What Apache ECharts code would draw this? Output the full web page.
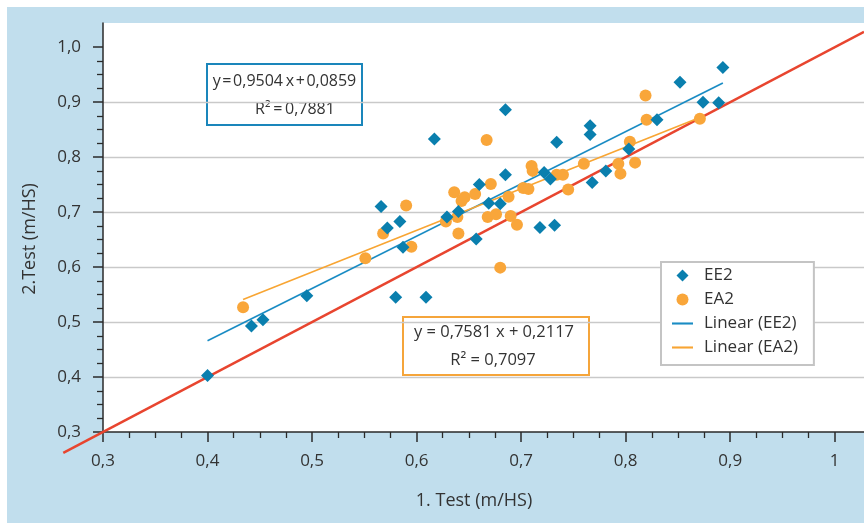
<!DOCTYPE html>
<html>
<head>
<meta charset="utf-8">
<script src="https://cdn.jsdelivr.net/npm/echarts@6/dist/echarts.min.js"></script>
<style>
  html, body { margin: 0; padding: 0; background: #ffffff; }
  #chart { position: absolute; left: 7px; top: 7px; width: 857px; height: 516px; }
</style>
</head>
<body>
<div id="chart"></div>
<script>
// ---- data ----
const ee2Points = [
  [0.400, 0.403], [0.442, 0.493], [0.453, 0.504], [0.495, 0.548],
  [0.566, 0.710], [0.572, 0.671], [0.584, 0.683], [0.587, 0.636],
  [0.580, 0.545], [0.609, 0.545], [0.617, 0.833], [0.629, 0.691],
  [0.640, 0.701], [0.657, 0.651], [0.660, 0.750], [0.669, 0.716],
  [0.680, 0.715], [0.685, 0.886], [0.685, 0.768], [0.718, 0.672],
  [0.722, 0.772], [0.728, 0.760], [0.732, 0.676], [0.734, 0.827],
  [0.766, 0.857], [0.766, 0.841], [0.768, 0.754], [0.781, 0.775],
  [0.803, 0.815], [0.830, 0.868], [0.852, 0.936], [0.874, 0.900],
  [0.889, 0.899], [0.893, 0.963]
];
const ea2Points = [
  [0.434, 0.527], [0.551, 0.616], [0.568, 0.661], [0.590, 0.712],
  [0.595, 0.637], [0.628, 0.683], [0.636, 0.736], [0.639, 0.691],
  [0.640, 0.661], [0.643, 0.720], [0.646, 0.727], [0.656, 0.733],
  [0.667, 0.831], [0.668, 0.691], [0.671, 0.751], [0.676, 0.696],
  [0.680, 0.599], [0.688, 0.728], [0.690, 0.693], [0.696, 0.677],
  [0.702, 0.744], [0.707, 0.742], [0.710, 0.784], [0.711, 0.775],
  [0.734, 0.768], [0.740, 0.768], [0.745, 0.741], [0.760, 0.788],
  [0.793, 0.788], [0.795, 0.770], [0.804, 0.828], [0.809, 0.790],
  [0.819, 0.912], [0.820, 0.868], [0.871, 0.870]
];
const trendEE2 = [[0.400, 0.466], [0.893, 0.935]];
const trendEA2 = [[0.434, 0.541], [0.871, 0.872]];
const identityLine = [[0.262, 0.262], [1.028, 1.028]];

const seriesNames = ['EE2', 'EA2', 'Linear (EE2)', 'Linear (EA2)'];
const eqEE2 = ['y\u200A=\u200A0,9504\u2009x\u200A+\u200A0,0859', 'R\u00B2\u2009=\u20090,7881'];
const eqEA2 = ['y = 0,7581 x + 0,2117', 'R\u00B2 = 0,7097'];
const xTitle = '1. Test (m/HS)';
const yTitle = '2.Test (m/HS)';

const xMajorTicks = [0.3, 0.4, 0.5, 0.6, 0.7, 0.8, 0.9, 1.0];
const yMajorTicks = [0.3, 0.4, 0.5, 0.6, 0.7, 0.8, 0.9, 1.0];
const minorTicks = [0.325, 0.35, 0.375, 0.425, 0.45, 0.475, 0.525, 0.55, 0.575,
  0.625, 0.65, 0.675, 0.725, 0.75, 0.775, 0.825, 0.85, 0.875, 0.925, 0.95, 0.975];
const xLabelText = ['0,3', '0,4', '0,5', '0,6', '0,7', '0,8', '0,9', '1'];
const yLabelText = ['0,3', '0,4', '0,5', '0,6', '0,7', '0,8', '0,9', '1,0'];

// ---- styling ----
const FONT = '"Open Sans", "Noto Sans", sans-serif';
const C_EE2 = '#0a7fae';
const C_EA2 = '#f9a63a';
const C_TEE2 = '#1a8cc4';
const C_TEA2 = '#f8a533';
const C_RED = '#e8452f';
const C_AXIS = '#2a2a2a';
const C_TEXT = '#333333';
const LINE_ICON = 'path://M0,0 L24,0 L24,2.4 L0,2.4 Z';
const DIAMOND_ICON = 'path://M6,0 L12,6 L6,12 L0,6 Z';

function labelFor(list, texts) {
  return function (v) {
    for (let i = 0; i < list.length; i++) {
      if (Math.abs(list[i] - v) < 1e-6) return texts[i];
    }
    return '';
  };
}

const chart = echarts.init(document.getElementById('chart'), null, { renderer: 'canvas' });

const axisCommonX = { type: 'value', min: 0.3, max: 1.028, interval: 0.1, gridIndex: 0, position: 'bottom' };
const axisCommonY = { type: 'value', min: 0.3, max: 1.044, interval: 0.1, gridIndex: 0, position: 'left' };

const option = {
  backgroundColor: '#c1deed',
  animation: false,
  textStyle: { fontFamily: FONT },
  grid: {
    left: 96, top: 16, right: 0, bottom: 91,
    show: true, backgroundColor: '#ffffff', borderWidth: 0
  },
  xAxis: [
    Object.assign({}, axisCommonX, {
      axisLine: { show: true, onZero: false, lineStyle: { color: C_AXIS, width: 1.5 } },
      axisTick: { show: true, customValues: xMajorTicks, length: 10, lineStyle: { color: C_AXIS, width: 1.5 } },
      axisLabel: { show: true, customValues: xMajorTicks, formatter: labelFor(xMajorTicks, xLabelText),
        margin: 21, color: C_TEXT, fontSize: 17, fontFamily: FONT },
      splitLine: { show: false }
    }),
    Object.assign({}, axisCommonX, {
      axisLine: { show: false },
      axisTick: { show: true, customValues: minorTicks, length: 6, lineStyle: { color: C_AXIS, width: 1.3 } },
      axisLabel: { show: false },
      splitLine: { show: false }
    })
  ],
  yAxis: [
    Object.assign({}, axisCommonY, {
      axisLine: { show: true, onZero: false, lineStyle: { color: C_AXIS, width: 1.5 } },
      axisTick: { show: true, customValues: yMajorTicks, length: 10, lineStyle: { color: C_AXIS, width: 1.5 } },
      axisLabel: { show: true, customValues: yMajorTicks, formatter: labelFor(yMajorTicks, yLabelText),
        margin: 22, color: C_TEXT, fontSize: 17, fontFamily: FONT },
      splitLine: { show: true, showMinLine: false, showMaxLine: false, lineStyle: { color: '#c9c9c9', width: 1.3 } }
    }),
    Object.assign({}, axisCommonY, {
      axisLine: { show: false },
      axisTick: { show: true, customValues: minorTicks, length: 6, lineStyle: { color: C_AXIS, width: 1.3 } },
      axisLabel: { show: false },
      splitLine: { show: false }
    })
  ],
  legend: {
    orient: 'vertical',
    left: 654, top: 255,
    padding: [5, 16, 9, 11],
    itemGap: 7,
    itemWidth: 21,
    itemHeight: 12,
    backgroundColor: '#ffffff',
    borderColor: '#c4c4c4',
    borderWidth: 2,
    borderRadius: 0,
    textStyle: { fontSize: 17, color: C_TEXT, fontFamily: FONT, padding: [0, 0, 0, 6], lineHeight: 17 },
    data: [
      { name: seriesNames[0], icon: DIAMOND_ICON },
      { name: seriesNames[1], icon: 'circle' },
      { name: seriesNames[2], icon: LINE_ICON },
      { name: seriesNames[3], icon: LINE_ICON }
    ]
  },
  graphic: [
    {
      type: 'text', x: 23, y: 232, rotation: Math.PI / 2,
      style: { text: yTitle, fontSize: 18, fontFamily: FONT, fill: C_TEXT, align: 'center', verticalAlign: 'middle' }
    },
    {
      type: 'text', x: 467, y: 494,
      style: { text: xTitle, fontSize: 18, fontFamily: FONT, fill: C_TEXT, align: 'center', verticalAlign: 'middle' }
    },
    {
      type: 'group', x: 200, y: 57, z: 100,
      children: [
        { type: 'rect', shape: { x: 0, y: 0, width: 155, height: 61 },
          style: { fill: '#ffffff', stroke: '#1a86bb', lineWidth: 2 } },
        { type: 'text', x: 77.5, y: 17, style: { text: eqEE2[0], fontSize: 16, fontFamily: FONT, fill: C_TEXT, align: 'center', verticalAlign: 'middle' } },
        { type: 'text', x: 88, y: 45, style: { text: eqEE2[1], fontSize: 16, fontFamily: FONT, fill: C_TEXT, align: 'center', verticalAlign: 'middle' } }
      ]
    },
    {
      type: 'group', x: 396, y: 310, z: 100,
      children: [
        { type: 'rect', shape: { x: 0, y: 0, width: 186, height: 58 },
          style: { fill: '#ffffff', stroke: '#f5a53b', lineWidth: 2 } },
        { type: 'text', x: 91, y: 15, style: { text: eqEA2[0], fontSize: 16.5, fontFamily: FONT, fill: C_TEXT, align: 'center', verticalAlign: 'middle' } },
        { type: 'text', x: 90, y: 43, style: { text: eqEA2[1], fontSize: 16.5, fontFamily: FONT, fill: C_TEXT, align: 'center', verticalAlign: 'middle' } }
      ]
    }
  ],
  series: [
    {
      name: 'identity', type: 'custom', xAxisIndex: 0, yAxisIndex: 0,
      data: [[identityLine[0][0], identityLine[0][1], identityLine[1][0], identityLine[1][1]]],
      dimensions: ['x1', 'y1', 'x2', 'y2'],
      encode: { x: [0, 2], y: [1, 3] },
      clip: false, silent: true, z: 2,
      renderItem: function (params, api) {
        const p1 = api.coord([api.value(0), api.value(1)]);
        const p2 = api.coord([api.value(2), api.value(3)]);
        return {
          type: 'line',
          shape: { x1: p1[0], y1: p1[1], x2: p2[0], y2: p2[1] },
          style: { stroke: C_RED, lineWidth: 2.5, fill: null }
        };
      }
    },
    {
      name: seriesNames[2], type: 'line', data: trendEE2, xAxisIndex: 0, yAxisIndex: 0,
      showSymbol: false, symbol: 'none', z: 3,
      itemStyle: { color: C_TEE2 }, lineStyle: { color: C_TEE2, width: 1.6 }
    },
    {
      name: seriesNames[3], type: 'line', data: trendEA2, xAxisIndex: 0, yAxisIndex: 0,
      showSymbol: false, symbol: 'none', z: 3,
      itemStyle: { color: C_TEA2 }, lineStyle: { color: C_TEA2, width: 1.6 }
    },
    {
      name: seriesNames[1], type: 'scatter', data: ea2Points, xAxisIndex: 0, yAxisIndex: 0,
      symbol: 'circle', symbolSize: 12, z: 4,
      itemStyle: { color: C_EA2, opacity: 1 }
    },
    {
      name: seriesNames[0], type: 'scatter', data: ee2Points, xAxisIndex: 0, yAxisIndex: 0,
      symbol: 'diamond', symbolSize: 13, z: 5,
      itemStyle: { color: C_EE2, opacity: 1 }
    }
  ]
};
chart.setOption(option);
</script>
</body>
</html>
